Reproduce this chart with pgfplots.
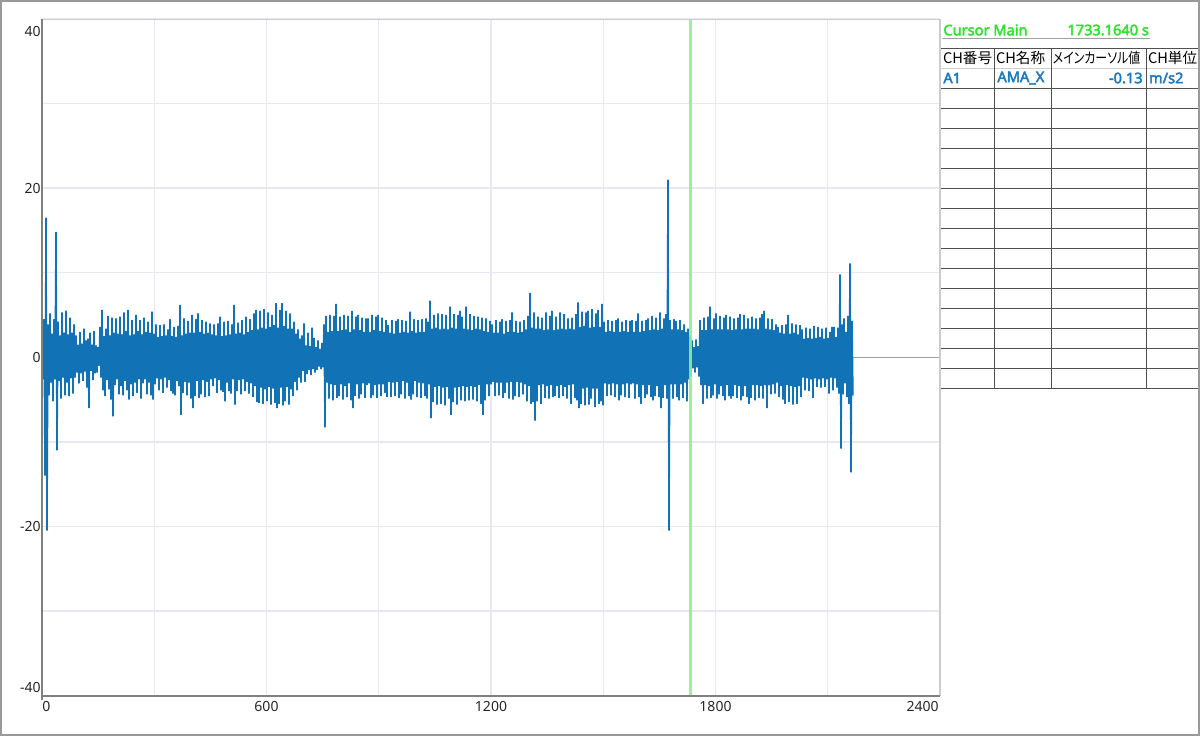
\documentclass[border=0pt]{standalone}
\usepackage{graphicx}
\usepackage{pgfplots}
\pgfplotsset{compat=1.18}
\usepackage{pgfplotstable}
\usepackage{fontspec}
\setmainfont{Noto Sans}
\newfontfamily\bnoto{Noto Sans}[FakeBold=3]
\newfontfamily\jp[RawFeature=+palt]{Noto Sans CJK JP}
\definecolor{sigc}{RGB}{18,114,182}
\definecolor{gridc}{RGB}{234,230,243}
\definecolor{cursorc}{RGB}{144,238,144}
\definecolor{cgreen}{RGB}{46,228,46}
\definecolor{tblue}{RGB}{26,122,190}
\definecolor{axgray}{RGB}{128,128,128}
\definecolor{lgray}{RGB}{205,205,205}
\definecolor{tline}{RGB}{80,80,80}
\definecolor{zgray}{RGB}{160,160,160}

% signal: alternating upper / lower excursions, one value per ~2.67 s
\pgfplotstableread[row sep=\\]{
y\\
1.6\\-2.6\\4.5\\-14.0\\16.5\\-20.5\\3.9\\-4.5\\5.2\\-3.0\\2.8\\-5.2\\4.5\\-2.6\\14.8\\-11.0\\
4.2\\-2.8\\2.6\\-4.9\\5.3\\-2.4\\2.9\\-4.5\\5.5\\-3.0\\2.7\\-4.6\\4.7\\-2.5\\2.9\\-4.3\\3.9\\-2.4\\
2.6\\-1.8\\1.5\\-3.1\\3.0\\-1.9\\1.6\\-2.8\\3.4\\-1.7\\2.0\\-3.6\\2.2\\-6.0\\2.9\\-1.6\\1.5\\-2.7\\3.1\\-1.9\\1.4\\-1.8\\1.2\\-1.0\\
3.6\\-2.4\\5.6\\-3.9\\2.5\\-4.6\\3.4\\-2.7\\4.9\\-3.8\\2.6\\-5.0\\4.7\\-7.0\\2.9\\-3.3\\4.6\\-2.6\\2.8\\-4.4\\4.8\\-3.4\\2.7\\-4.5\\5.3\\-2.8\\3.1\\-3.9\\
5.6\\-5.0\\2.6\\-3.2\\4.4\\-4.6\\2.7\\-3.0\\5.0\\-4.2\\3.1\\-2.6\\4.4\\-4.9\\2.7\\-3.1\\4.7\\-2.6\\3.0\\-4.4\\4.2\\-3.0\\2.9\\-4.5\\5.4\\-5.0\\2.8\\-3.2\\
3.9\\-2.5\\2.4\\-3.9\\3.8\\-2.6\\2.5\\-4.2\\3.9\\-2.4\\2.6\\-3.6\\3.3\\-2.7\\4.5\\-4.0\\2.5\\-4.3\\3.6\\-4.5\\2.4\\-2.8\\3.7\\-3.4\\6.2\\-6.8\\2.6\\-4.2\\
4.6\\-2.9\\2.8\\-4.5\\4.3\\-3.0\\2.9\\-4.9\\5.0\\-6.0\\2.9\\-4.6\\4.5\\-2.8\\5.2\\-4.8\\3.0\\-4.4\\4.4\\-2.7\\2.8\\-4.7\\4.2\\-2.9\\2.9\\-4.6\\4.0\\-2.6\\2.7\\-3.4\\
3.9\\-2.5\\2.6\\-4.2\\4.0\\-2.7\\4.8\\-3.9\\2.5\\-4.1\\4.2\\-5.2\\2.6\\-3.0\\4.3\\-4.0\\2.7\\-4.3\\3.9\\-2.6\\6.2\\-5.6\\2.8\\-4.0\\4.1\\-2.7\\2.9\\-4.4\\4.4\\-2.6\\2.7\\-4.0\\4.8\\-2.9\\3.0\\-4.3\\4.5\\-3.1\\3.2\\-4.7\\
5.2\\-3.4\\5.6\\-5.3\\3.3\\-5.4\\5.5\\-3.6\\3.5\\-5.5\\5.7\\-3.8\\3.4\\-5.2\\5.3\\-3.5\\3.6\\-5.6\\5.0\\-3.7\\3.8\\-5.4\\6.4\\-6.0\\3.5\\-5.5\\5.6\\-3.6\\6.4\\-5.7\\3.7\\-5.2\\5.5\\-3.5\\3.4\\-5.6\\5.2\\-3.8\\3.4\\-4.6\\4.2\\-2.9\\2.8\\-3.9\\3.3\\-2.4\\2.2\\-3.0\\
2.6\\-1.6\\4.0\\-2.9\\1.4\\-2.0\\2.9\\-1.5\\1.3\\-2.1\\3.5\\-1.4\\2.3\\-1.8\\1.2\\-1.5\\2.0\\-1.1\\1.0\\-1.4\\1.7\\-1.2\\
3.9\\-8.3\\4.9\\-3.0\\3.0\\-4.9\\5.0\\-3.2\\3.1\\-5.1\\4.9\\-3.3\\6.3\\-4.8\\3.1\\-4.6\\4.8\\-3.2\\3.2\\-5.0\\5.0\\-3.4\\3.3\\-4.7\\4.9\\-3.1\\3.0\\-5.1\\5.5\\-6.0\\3.3\\-4.6\\4.8\\-3.2\\5.0\\-4.9\\3.2\\-4.4\\4.7\\-3.1\\3.0\\-4.8\\4.6\\-3.3\\
4.6\\-3.1\\3.0\\-4.8\\5.0\\-4.5\\3.2\\-3.3\\4.8\\-4.8\\5.0\\-3.2\\3.1\\-4.6\\4.7\\-3.2\\3.0\\-4.2\\4.4\\-4.7\\
3.8\\-2.9\\2.9\\-4.7\\4.4\\-3.0\\2.8\\-4.6\\4.3\\-2.9\\4.5\\-4.8\\2.9\\-4.4\\4.4\\-2.8\\3.0\\-4.9\\4.3\\-3.0\\2.9\\-4.6\\5.4\\-5.0\\3.1\\-4.4\\4.5\\-2.8\\2.9\\-4.7\\4.4\\-3.0\\3.0\\-4.8\\4.5\\-3.1\\3.0\\-4.6\\4.6\\-4.9\\4.2\\-3.2\\
6.7\\-7.2\\3.4\\-5.3\\5.0\\-3.5\\3.5\\-5.6\\5.2\\-3.4\\3.3\\-5.5\\5.1\\-3.6\\3.4\\-5.7\\5.0\\-3.5\\3.3\\-4.9\\6.0\\-6.8\\3.5\\-5.3\\5.1\\-3.6\\3.4\\-5.6\\5.0\\-3.5\\5.5\\-5.1\\
4.8\\-3.4\\3.4\\-5.2\\6.0\\-3.5\\3.3\\-5.1\\5.1\\-3.4\\3.2\\-5.0\\4.9\\-3.5\\3.4\\-5.2\\4.8\\-3.3\\3.3\\-5.5\\4.7\\-6.8\\3.1\\-5.1\\4.6\\-3.2\\3.0\\-4.6\\4.3\\-3.2\\
3.9\\-2.9\\2.9\\-4.6\\4.4\\-3.0\\2.9\\-4.5\\4.2\\-3.0\\4.5\\-4.8\\2.8\\-4.2\\4.3\\-3.0\\3.0\\-4.9\\4.4\\-2.9\\5.3\\-5.0\\3.0\\-4.6\\4.3\\-2.9\\2.9\\-4.7\\4.2\\-3.0\\3.0\\-4.4\\
4.4\\-3.2\\3.3\\-5.2\\4.9\\-3.4\\7.6\\-5.5\\3.5\\-5.3\\5.3\\-7.5\\3.4\\-5.2\\4.8\\-3.3\\3.4\\-5.5\\
4.7\\-3.2\\3.2\\-4.8\\5.3\\-3.4\\3.3\\-4.9\\4.9\\-3.3\\5.5\\-4.7\\3.2\\-4.6\\4.8\\-3.4\\3.3\\-4.8\\5.3\\-3.3\\3.4\\-4.6\\5.1\\-3.5\\3.3\\-4.9\\4.6\\-3.3\\3.4\\-5.5\\4.7\\-3.2\\3.3\\-4.8\\5.1\\-5.1\\
6.5\\-6.0\\3.6\\-5.5\\5.4\\-3.7\\3.7\\-5.7\\5.3\\-3.6\\5.5\\-5.6\\3.5\\-4.9\\5.7\\-3.7\\3.6\\-5.9\\5.2\\-3.7\\5.6\\-5.5\\3.6\\-5.2\\6.3\\-5.7\\
4.2\\-3.1\\3.0\\-4.6\\4.4\\-3.2\\3.1\\-4.5\\4.3\\-3.1\\3.0\\-4.7\\4.4\\-3.2\\4.6\\-5.1\\3.0\\-4.5\\4.2\\-3.2\\3.1\\-4.7\\4.4\\-3.1\\3.0\\-4.8\\4.3\\-3.2\\4.4\\-3.1\\3.0\\-4.9\\4.3\\-3.2\\5.2\\-4.7\\3.0\\-5.5\\4.3\\-3.3\\3.1\\-4.8\\4.4\\-4.4\\
4.6\\-3.3\\3.2\\-4.7\\4.9\\-5.1\\3.3\\-4.6\\4.7\\-3.4\\3.2\\-4.7\\5.3\\-6.0\\3.4\\-4.8\\4.6\\-3.3\\5.1\\-4.9\\21.0\\-20.5\\
4.4\\-3.2\\3.3\\-4.9\\4.5\\-3.2\\4.3\\-4.7\\3.3\\-5.1\\4.4\\-3.2\\3.2\\-4.8\\3.9\\-3.0\\3.0\\-5.2\\3.4\\-2.6\\2.6\\-2.3\\
2.0\\-1.3\\1.2\\-1.8\\2.1\\-1.2\\1.3\\-2.3\\
4.4\\-3.3\\3.2\\-5.5\\4.7\\-3.3\\3.2\\-4.9\\4.8\\-3.4\\6.0\\-4.8\\3.3\\-4.5\\4.6\\-3.2\\5.2\\-4.9\\3.3\\-4.4\\4.9\\-3.4\\3.3\\-4.6\\4.7\\-5.1\\5.0\\-3.3\\3.3\\-4.6\\4.8\\-4.9\\3.2\\-4.6\\4.6\\-3.3\\3.3\\-4.8\\4.7\\-3.4\\
5.1\\-5.1\\3.3\\-4.6\\5.0\\-3.4\\3.4\\-4.7\\4.6\\-5.5\\3.4\\-4.8\\4.8\\-3.3\\3.4\\-5.1\\4.6\\-3.3\\3.3\\-4.8\\4.7\\-3.4\\5.1\\-4.9\\5.5\\-3.3\\3.4\\-6.0\\4.6\\-3.3\\3.3\\-4.4\\4.5\\-3.2\\3.2\\-4.3\\3.9\\-3.0\\
3.6\\-4.7\\2.9\\-3.4\\3.8\\-5.0\\2.8\\-5.5\\3.9\\-3.3\\5.0\\-5.3\\2.8\\-3.4\\4.0\\-5.6\\2.9\\-3.5\\3.9\\-5.5\\2.7\\-3.4\\3.8\\-4.7\\
3.3\\-2.4\\2.2\\-3.9\\3.5\\-2.5\\2.3\\-4.0\\3.4\\-2.6\\2.2\\-4.8\\3.7\\-2.5\\2.3\\-3.5\\3.6\\-2.6\\2.4\\-3.6\\3.4\\-2.5\\2.2\\-3.5\\3.5\\-2.6\\2.3\\-4.3\\3.0\\-2.4\\3.6\\-3.9\\3.6\\-2.5\\2.4\\-3.6\\3.5\\-4.3\\9.8\\-10.8\\
3.9\\-4.4\\4.6\\-3.1\\3.0\\-4.7\\4.9\\-5.5\\11.1\\-13.6\\4.3\\-4.5\\
}\sigdata

\begin{document}
\begin{tikzpicture}
\path[use as bounding box] (0pt,0pt) rectangle (600pt,-368pt);
\begin{axis}[
  at={(21pt,-347.75pt)}, anchor=south west,
  scale only axis, width=449pt, height=338.25pt,
  xmin=0, xmax=2400, ymin=-40, ymax=40,
  axis line style={draw=none},
  xtick={0,600,1200,1800,2400}, xticklabels={,600,1200,1800,},
  ytick={-40,-20,0,20,40}, yticklabels={,-20,0,20,},
  minor xtick={300,900,1500,2100}, minor ytick={-30,-10,10,30},
  grid=both,
  major grid style={gridc, line width=0.7pt},
  minor grid style={gridc, line width=0.7pt},
  major tick length=0pt, minor tick length=0pt,
  tick label style={font=\fontsize{7}{8}\selectfont, text=black!85},
  /pgf/number format/assume math mode=true,
  yticklabel style={anchor=east, inner sep=0pt, xshift=-0.5pt},
  xticklabel style={anchor=north, inner sep=0pt, yshift=-2.75pt},
  clip=false,
]
\addplot[zgray, line width=0.7pt] coordinates {(0,0) (2400,0)};
\addplot[sigc, line width=0.75pt, line join=bevel] table[x expr=\coordindex*2.6726, y=y]{\sigdata};
\addplot[cursorc, line width=1.5pt, opacity=0.9] coordinates {(1733.164,-40) (1733.164,40)};
\draw[lgray, line width=0.5pt] (rel axis cs:0,1) -- (rel axis cs:1,1);
\draw[lgray, line width=0.6pt] (rel axis cs:1,0) -- (rel axis cs:1,1);
\draw[axgray, line width=1pt] (rel axis cs:0,0) -- (rel axis cs:1,0);
\draw[axgray, line width=1pt] ([yshift=-2pt]rel axis cs:0,0) -- (rel axis cs:0,1);
\node[anchor=east, inner sep=0pt, xshift=-0.5pt, yshift=-6pt, font=\fontsize{7}{8}\selectfont, text=black!85] at (axis cs:0,40) {40};
\node[anchor=east, inner sep=0pt, xshift=-0.5pt, yshift=4pt, font=\fontsize{7}{8}\selectfont, text=black!85] at (axis cs:0,-40) {-40};
\node[anchor=north west, inner sep=0pt, yshift=-2.75pt, font=\fontsize{7}{8}\selectfont, text=black!85] at (axis cs:0,-40) {0};
\node[anchor=north east, inner sep=0pt, xshift=-0.5pt, yshift=-2.75pt, font=\fontsize{7}{8}\selectfont, text=black!85] at (axis cs:2400,-40) {2400};
\end{axis}
% cursor panel
\node[anchor=west, inner sep=0pt, text=cgreen, font=\fontsize{7.3}{9}\selectfont\bnoto] at (471.5pt,-15pt) {Cursor Main};
\node[anchor=west, inner sep=0pt, text=cgreen, font=\fontsize{7.3}{9}\selectfont\bnoto] at (533.5pt,-15pt) {1733.1640 s};
\draw[zgray, line width=0.6pt] (471pt,-19.2pt) -- (575pt,-19.2pt);
\foreach \k in {0,2,3,...,17} \draw[tline, line width=0.5pt] (470.5pt,{(-24-10*\k)*1pt}) -- (600pt,{(-24-10*\k)*1pt});
\draw[lgray, line width=0.5pt] (470.5pt,-34pt) -- (600pt,-34pt);
\foreach \xx in {497,525.5,573} \draw[tline, line width=0.5pt] ({\xx*1pt},-24pt) -- ({\xx*1pt},-194pt);
\begin{scope}[every node/.style={inner sep=0pt, font=\fontsize{7.3}{9}\selectfont\jp}]
\node[anchor=west] at (471.3pt,-29pt) {CH番号};
\node[anchor=west] at (497.8pt,-29pt) {CH名称};
\node[anchor=west] at (526.2pt,-29pt) {\scalebox{0.82}[1]{メインカーソル値}};
\node[anchor=west] at (573.8pt,-29pt) {CH単位};
\end{scope}
\begin{scope}[every node/.style={inner sep=0pt, text=tblue, font=\fontsize{7.3}{9}\selectfont\bnoto}]
\node[anchor=west] at (471.5pt,-39pt) {A1};
\node[anchor=west] at (498.5pt,-39pt) {AMA\_X};
\node[anchor=east] at (571.5pt,-39pt) {-0.13};
\node[anchor=west] at (574.3pt,-39pt) {m/s2};
\end{scope}
\draw[axgray!80, line width=1pt] (0.5pt,-0.5pt) rectangle (599.5pt,-367.5pt);
\end{tikzpicture}
\end{document}
